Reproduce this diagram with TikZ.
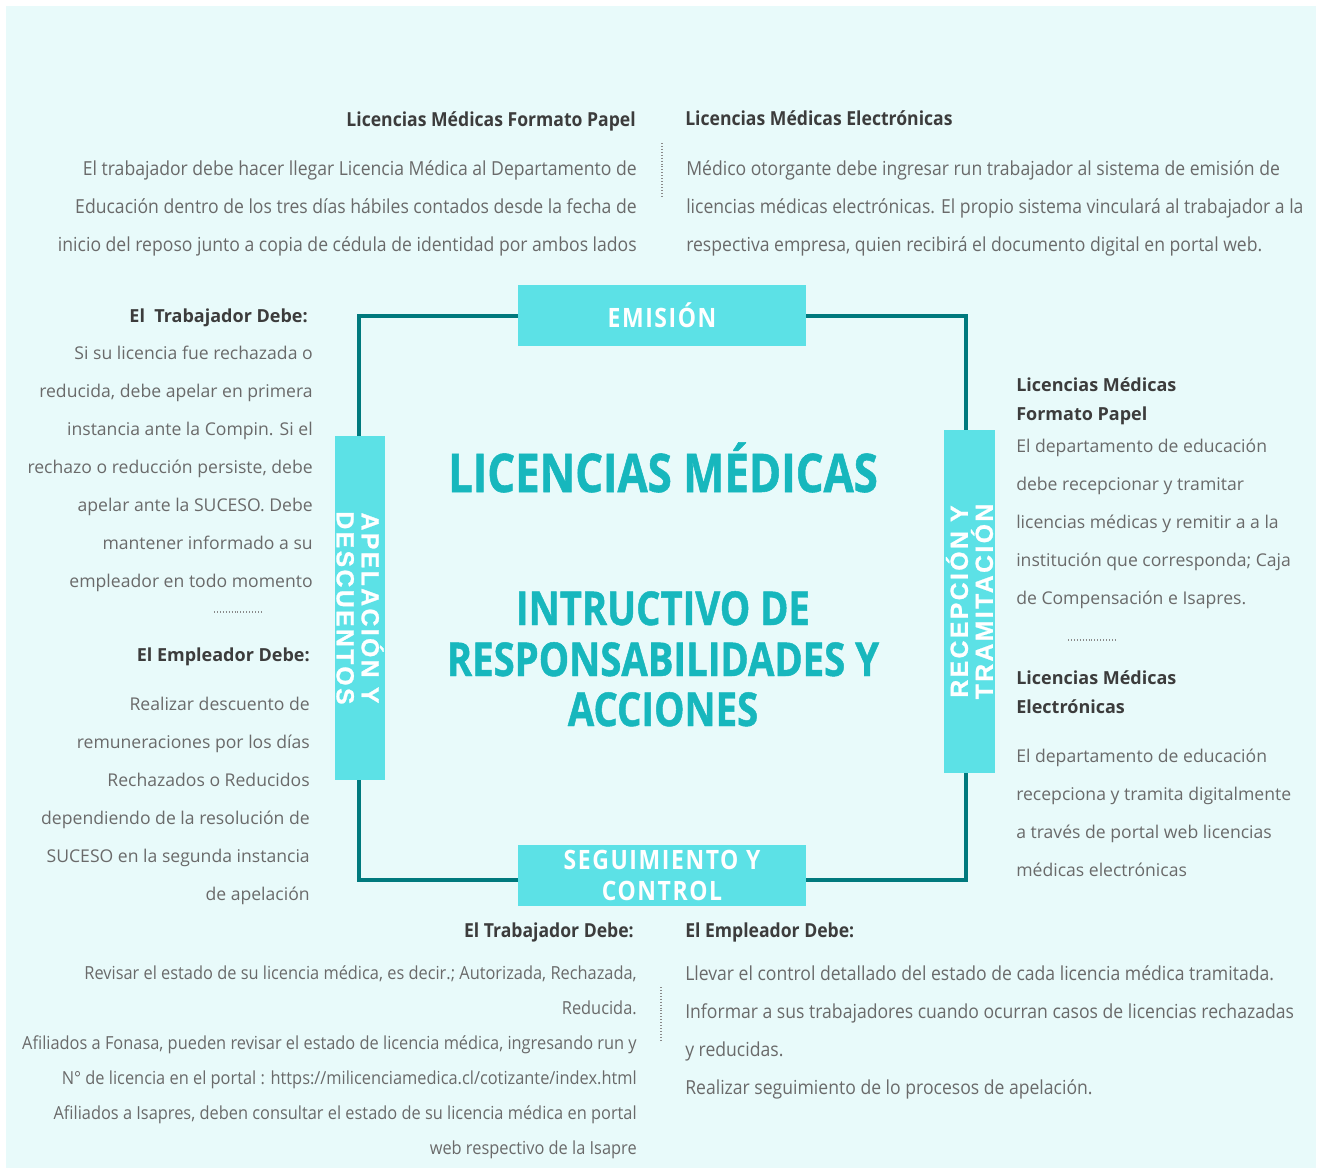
\documentclass[tikz,border=0pt]{standalone}
\usepackage{fontspec}
\setmainfont{Open Sans}
\newfontfamily\condfont[FakeStretch=0.91]{Open Sans}
\newfontfamily\tabcondfont[FakeStretch=0.86, LetterSpace=6]{Open Sans}
\newfontfamily\titlefont[FakeStretch=0.82, BoldFeatures={FakeBold=1}]{Open Sans}
\newfontfamily\tabfont[LetterSpace=10, BoldFeatures={FakeBold=1}]{Liberation Sans}
\usepackage{tikz}
\usetikzlibrary{positioning}
\definecolor{bgcyan}{HTML}{E8FAFA}
\definecolor{tabcyan}{HTML}{5CE1E6}
\definecolor{frameteal}{HTML}{00797D}
\definecolor{titleteal}{HTML}{17B7BD}
\definecolor{headgray}{HTML}{3C3C3C}
\definecolor{bodygray}{HTML}{6A6A6A}
\definecolor{dotgray}{HTML}{8A8A8A}

\begin{document}
\begin{tikzpicture}[
    x=0.75pt, y=-0.75pt,
    frame/.style={draw=frameteal, line width=2.6pt},
    tab/.style={fill=tabcyan, inner sep=0pt, text=white, align=center},
    headr/.style={anchor=base east, inner sep=0pt, text=headgray, font=\condfont\bfseries\fontsize{14.5}{17}\selectfont},
    headl/.style={headr, anchor=base west},
    bodyr/.style={anchor=base east, inner sep=0pt, text=bodygray, font=\condfont\fontsize{14.5}{17}\selectfont},
    bodyl/.style={bodyr, anchor=base west},
    sider/.style={anchor=base east, inner sep=0pt, text=bodygray, font=\fontsize{13.2}{15}\selectfont},
    sidel/.style={sider, anchor=base west},
    sidehr/.style={anchor=base east, inner sep=0pt, text=headgray, font=\bfseries\fontsize{13.5}{15}\selectfont},
    sidehl/.style={sidehr, anchor=base west},
    sep/.style={dotgray, line width=1.2pt, dash pattern=on 0.6pt off 1.6pt},
    title/.style={inner sep=0pt, text=titleteal, align=center}
]
% page and background
\useasboundingbox (0,0) rectangle (1317,1171);
\fill[white] (0,0) rectangle (1317,1171);
\fill[bgcyan] (6,6) rectangle (1316,1168);

% frame
\coordinate (ftl) at (359,316);
\coordinate (fbr) at (966,880);
\draw[frame] (ftl) rectangle (fbr);

% tabs
\node[tab, minimum width=216pt, minimum height=45.75pt, font=\tabcondfont\bfseries\fontsize{20}{22}\selectfont] (emision) at (662,315.5) {EMISIÓN};
\node[tab, minimum width=216pt, minimum height=45.75pt, font=\tabcondfont\bfseries\fontsize{20}{23}\selectfont] (seguimiento) at (662,875.5) {SEGUIMIENTO Y\\CONTROL};
\node[tab, rotate=-90, minimum width=258pt, minimum height=37.5pt, font=\tabfont\bfseries\fontsize{18.5}{18.75}\selectfont] (apelacion) at (360,608) {APELACIÓN Y\\DESCUENTOS};
\node[tab, rotate=90, minimum width=257.25pt, minimum height=38.25pt, font=\tabfont\bfseries\fontsize{18.5}{18.75}\selectfont] (recepcion) at (969.5,601.5) {RECEPCIÓN Y\\TRAMITACIÓN};

% titles
\node[title, anchor=base, font=\titlefont\bfseries\fontsize{40}{40}\selectfont] (licencias) at (663,492) {LICENCIAS MÉDICAS};
\node[title, anchor=base, font=\titlefont\bfseries\fontsize{35}{37.5}\selectfont] (instructivo) at (663,625) {INTRUCTIVO DE};
\node[title, anchor=base, font=\titlefont\bfseries\fontsize{35}{37.5}\selectfont] (responsab) at (663,676) {RESPONSABILIDADES Y};
\node[title, anchor=base, font=\titlefont\bfseries\fontsize{35}{37.5}\selectfont] (acciones) at (663,726) {ACCIONES};

% top: emision
\node[headr] (papelh) at (636,126) {Licencias Médicas Formato Papel};
\foreach \t [count=\i from 0] in {{El trabajador debe hacer llegar Licencia Médica al Departamento de},
    {Educación dentro de los tres días hábiles contados desde la fecha de},
    {inicio del reposo junto a copia de cédula de identidad por ambos lados}}
  \node[bodyr] (papel\i) at (637,{175+38*\i}) {\t};
\node[headl] (electh) at (685,125) {Licencias Médicas Electrónicas};
\foreach \t [count=\i from 0] in {{Médico otorgante debe ingresar run trabajador al sistema de emisión de},
    {licencias médicas electrónicas. El propio sistema vinculará al trabajador a la},
    {respectiva empresa, quien recibirá el documento digital en portal web.}}
  \node[bodyl] (elect\i) at (686,{175+38*\i}) {\t};
\coordinate (sept1) at (662,143);
\coordinate (sept2) at (662,197);
\draw[sep] (sept1) -- (sept2);

% left: apelacion y descuentos
\node[sidehr] (trabh) at (308,322) {El\ \ Trabajador Debe:};
\foreach \t [count=\i from 0] in {{Si su licencia fue rechazada o},
    {reducida, debe apelar en primera},
    {instancia ante la Compin. Si el},
    {rechazo o reducción persiste, debe},
    {apelar ante la SUCESO. Debe},
    {mantener informado a su},
    {empleador en todo momento}}
  \node[sider] (trab\i) at (313,{359+38*\i}) {\t};
\coordinate (sepl1) at (214,612);
\coordinate (sepl2) at (262,612);
\draw[sep] (sepl1) -- (sepl2);
\node[sidehr] (emplh) at (310,661) {El Empleador Debe:};
\foreach \t [count=\i from 0] in {{Realizar descuento de},
    {remuneraciones por los días},
    {Rechazados o Reducidos},
    {dependiendo de la resolución de},
    {SUCESO en la segunda instancia},
    {de apelación}}
  \node[sider] (empl\i) at (310,{710+38*\i}) {\t};

% right: recepcion y tramitacion
\node[sidehl] (rpapelh1) at (1016,391) {Licencias Médicas};
\node[sidehl] (rpapelh2) at (1016,420) {Formato Papel};
\foreach \t [count=\i from 0] in {{El departamento de educación},
    {debe recepcionar y tramitar},
    {licencias médicas y remitir a a la},
    {institución que corresponda; Caja},
    {de Compensación e Isapres.}}
  \node[sidel] (rpapel\i) at (1016,{452+38*\i}) {\t};
\coordinate (sepr1) at (1068,640);
\coordinate (sepr2) at (1115,640);
\draw[sep] (sepr1) -- (sepr2);
\node[sidehl] (relecth1) at (1016,684) {Licencias Médicas};
\node[sidehl] (relecth2) at (1016,713) {Electrónicas};
\foreach \t [count=\i from 0] in {{El departamento de educación},
    {recepciona y tramita digitalmente},
    {a través de portal web licencias},
    {médicas electrónicas}}
  \node[sidel] (relect\i) at (1016,{762+38*\i}) {\t};

% bottom: seguimiento y control
\node[headr] (btrabh) at (634,937) {El Trabajador Debe:};
\foreach \t [count=\i from 0] in {{Revisar el estado de su licencia médica, es decir.; Autorizada, Rechazada,},
    {Reducida.},
    {Afiliados a Fonasa, pueden revisar el estado de licencia médica, ingresando run y},
    {N° de licencia en el portal : https://milicenciamedica.cl/cotizante/index.html},
    {Afiliados a Isapres, deben consultar el estado de su licencia médica en portal},
    {web respectivo de la Isapre}}
  \node[bodyr, font=\condfont\fontsize{13.5}{15}\selectfont] (btrab\i) at (637,{979+35*\i}) {\t};
\node[headl] (bemplh) at (685,937) {El Empleador Debe:};
\foreach \t [count=\i from 0] in {{Llevar el control detallado del estado de cada licencia médica tramitada.},
    {Informar a sus trabajadores cuando ocurran casos de licencias rechazadas},
    {y reducidas.},
    {Realizar seguimiento de lo procesos de apelación.}}
  \node[bodyl] (bempl\i) at (685,{980+38*\i}) {\t};
\coordinate (sepb1) at (661,987);
\coordinate (sepb2) at (661,1040);
\draw[sep] (sepb1) -- (sepb2);
\end{tikzpicture}
\end{document}
